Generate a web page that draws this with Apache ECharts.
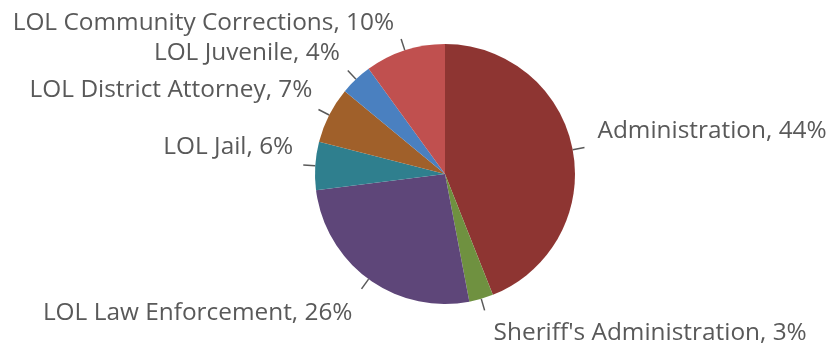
<!DOCTYPE html>
<html>
<head>
<meta charset="utf-8">
<script src="https://cdn.jsdelivr.net/npm/echarts@6/dist/echarts.min.js"></script>
<style>
html,body{margin:0;padding:0;background:#fff;}
#chart{width:830px;height:347px;}
</style>
</head>
<body>
<div id="chart"></div>
<script>
const categories = ["Administration", "Sheriff's Administration", "LOL Law Enforcement", "LOL Jail", "LOL District Attorney", "LOL Juvenile", "LOL Community Corrections"];
const values = [44, 3, 26, 6, 7, 4, 10];
const colors = ["#8E3532", "#6F9140", "#5E4679", "#2F7F8E", "#A0602A", "#4A80C0", "#C0504F"];
// offsets of each label text relative to its tick end (px)
const labelShiftY = [-16, 23, 24, -18, -19, -17, -16];
const labelShiftX = [8, 4, -4, -5, -1, -3, -2];

const chart = echarts.init(document.getElementById('chart'), null, {renderer: 'canvas'});
const data = categories.map((c, i) => ({
  name: c,
  value: values[i],
  itemStyle: {color: colors[i]}
}));
chart.setOption({
  animation: false,
  series: [{
    type: 'pie',
    center: [445, 174],
    radius: 130,
    startAngle: 90,
    clockwise: true,
    avoidLabelOverlap: false,
    data: data,
    label: {
      show: true,
      formatter: p => p.name + ', ' + p.value + '%',
      fontFamily: '"Open Sans", "Noto Sans", sans-serif',
      fontSize: 24.4,
      color: '#595959'
    },
    labelLine: {
      show: true,
      length: 12,
      length2: 0,
      smooth: false,
      lineStyle: {color: '#595959', width: 1.5}
    },
    labelLayout: function (params) {
      return {dx: labelShiftX[params.dataIndex], dy: labelShiftY[params.dataIndex]};
    },
    itemStyle: {borderWidth: 0}
  }]
});
</script>
</body>
</html>
